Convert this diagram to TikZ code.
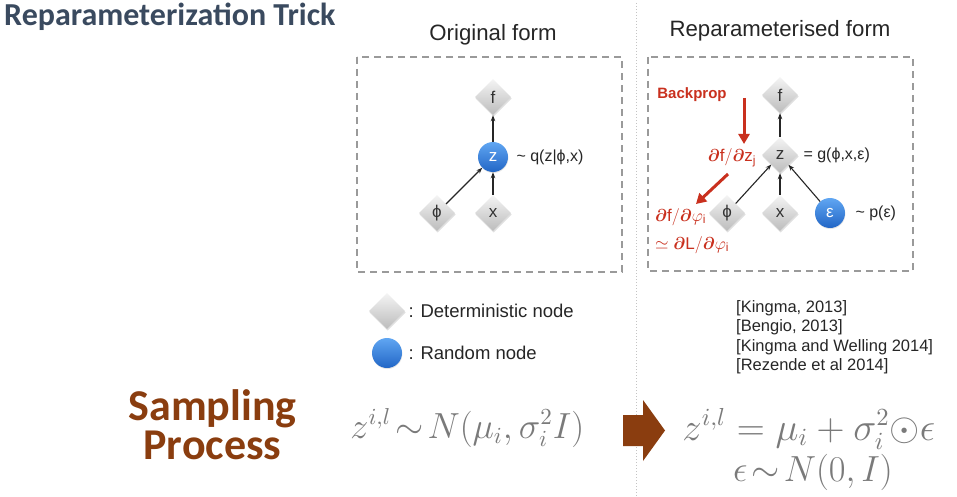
\documentclass[tikz,border=0pt]{standalone}
\usepackage{bm}
\usepackage{fontspec}
\setmainfont{Liberation Sans}
\newfontfamily\calib{Carlito}
\usetikzlibrary{shapes.geometric,arrows.meta,shadows}
\definecolor{titlec}{HTML}{3A4A5F}
\definecolor{brownc}{HTML}{8A3D0F}
\definecolor{redc}{HTML}{C9301E}
\definecolor{mathc}{HTML}{7A7A7A}
\definecolor{dtop}{HTML}{F4F4F4}
\definecolor{dbot}{HTML}{BCBCBC}
\definecolor{ctop}{HTML}{60A6F2}
\definecolor{cbot}{HTML}{2266C6}
\definecolor{boxc}{HTML}{9A9A9A}
\definecolor{dotc}{HTML}{C4C4C4}
\begin{document}
\begin{tikzpicture}[x=1pt,y=-1pt,
  det/.style={diamond, minimum width=36pt, minimum height=36pt, inner sep=0pt,
    top color=dtop, bottom color=dbot,
    drop shadow={opacity=0.25,shadow xshift=0.6pt,shadow yshift=-1.5pt},
    font=\fontsize{17}{20}\selectfont, text=black!80},
  rnd/.style={circle, minimum size=30pt, inner sep=0pt, top color=ctop, bottom color=cbot,
    drop shadow={opacity=0.2,shadow xshift=0.4pt,shadow yshift=-1pt},
    font=\fontsize{17}{20}\selectfont, text=white},
  lab/.style={font=\fontsize{16}{19}\selectfont, text=black!85, anchor=west},
  leg/.style={font=\fontsize{18.5}{22}\selectfont, text=black!85, anchor=west},
  ref/.style={font=\fontsize{16.5}{19}\selectfont, text=black!85, anchor=base west, inner sep=0pt},
  edge/.style={-{Stealth[length=6pt,width=4.5pt]}, line width=1.1pt, black!85},
  redarr/.style={-{Triangle[length=10pt,width=11pt]}, line width=3pt, redc},
  dbox/.style={draw=boxc, line width=1.3pt, dash pattern=on 7pt off 5pt},
  head/.style={font=\fontsize{22.2}{26}\selectfont, text=black!85, anchor=base, inner sep=0pt},
  redlab/.style={font=\fontsize{17}{20}\selectfont, text=redc, inner sep=0pt},
  fml/.style={font=\fontsize{16}{18.5}\selectfont, text=mathc, inner sep=0pt, scale=2.1},
]
\useasboundingbox (0,0) rectangle (957,497);
\fill[white] (0,0) rectangle (957,497);

% title
\node[font=\calib\bfseries\fontsize{32}{37}\selectfont, text=titlec, anchor=base west, inner sep=0pt] (title) at (4,26) {Reparameterization Trick};

% separator
\draw[dotc, line width=1pt, dotted] (636,3) -- (636,497);

% headings
\node[head] (h1) at (493,41) {Original form};
\node[head] (h2) at (780,37) {Reparameterised form};

% boxes
\draw[dbox] (357,57) rectangle (622,272);
\draw[dbox] (648,57) rectangle (913,271);

% original form
\node[det] (f1) at (493,97) {f};
\node[rnd] (z1) at (493,157) {z};
\node[det] (p1) at (437,213) {ϕ};
\node[det] (x1) at (493,213) {x};
\node[lab] (q1) at (513,157) {\textasciitilde{} q(z|ϕ,x)};
\draw[edge] (p1) -- (z1);
\draw[edge] (x1) -- (z1);
\draw[edge] (z1) -- (f1);

% reparameterised form
\node[det] (f2) at (780,95) {f};
\node[det] (z2) at (780,155) {z};
\node[det] (p2) at (727,213) {ϕ};
\node[det] (x2) at (780,213) {x};
\node[rnd] (e2) at (830,213) {ε};
\node[lab] (g2) at (800,155) {= g(ϕ,x,ε)};
\node[lab] (pe) at (852,213) {\textasciitilde{} p(ε)};
\draw[edge] (p2) -- (z2);
\draw[edge] (x2) -- (z2);
\draw[edge] (e2) -- (z2);
\draw[edge] (z2) -- (f2);

% backprop
\node[font=\bfseries\fontsize{15}{18}\selectfont, text=redc, inner sep=0pt] (bp) at (692,95) {Backprop};
\coordinate (r1a) at (744,98);
\coordinate (r1b) at (744,144);
\coordinate (r2a) at (728,174);
\coordinate (r2b) at (696,204);
\draw[redarr] (r1a) -- (r1b);
\draw[redarr] (r2a) -- (r2b);
\node[redlab] (dz) at (732,158) {$\bm{\partial}\mathrm{f}/\bm{\partial}\mathrm{z}_{\mathrm{j}}$};
\node[redlab, anchor=west] (dp) at (655,217) {$\bm{\partial}\mathrm{f}/\bm{\partial}\varphi_{\mathrm{i}}$};
\node[redlab, anchor=west] (dl) at (655,245) {$\simeq\bm{\partial}\mathrm{L}/\bm{\partial}\varphi_{\mathrm{i}}$};

% legend
\node[det] (ld) at (387,311) {};
\node[leg] (ldt) at (405,311) {: Deterministic node};
\node[rnd] (lr) at (387,353) {};
\node[leg] (lrt) at (405,353) {: Random node};

% references
\node[ref] (r1) at (736,312) {[Kingma, 2013]};
\node[ref] (r2) at (736,331.5) {[Bengio, 2013]};
\node[ref] (r3) at (736,351) {[Kingma and Welling 2014]};
\node[ref] (r4) at (736,370.5) {[Rezende et al 2014]};

% sampling process
\node[font=\calib\bfseries\fontsize{44}{39.5}\selectfont, text=brownc, align=center, inner sep=0pt, anchor=south] (sp) at (212.5,460.5) {Sampling\\Process};

\node[fml, anchor=base west] (eq1) at (350,438) {$z^{i,l}\!\sim\! N(\mu_i,\sigma_i^2 I)$};

\fill[brownc] (623,415) -- (643,415) -- (643,400) -- (665,430.5) -- (643,461) -- (643,446) -- (623,446) -- cycle;

\node[fml, anchor=base west, scale=1.07] (eq2) at (682,440) {$z^{i,l}=\mu_i+\sigma_i^2{\odot}\epsilon$};
\node[fml, anchor=base] (eq3) at (813,481) {$\epsilon\!\sim\! N(0,I)$};
\end{tikzpicture}
\end{document}
